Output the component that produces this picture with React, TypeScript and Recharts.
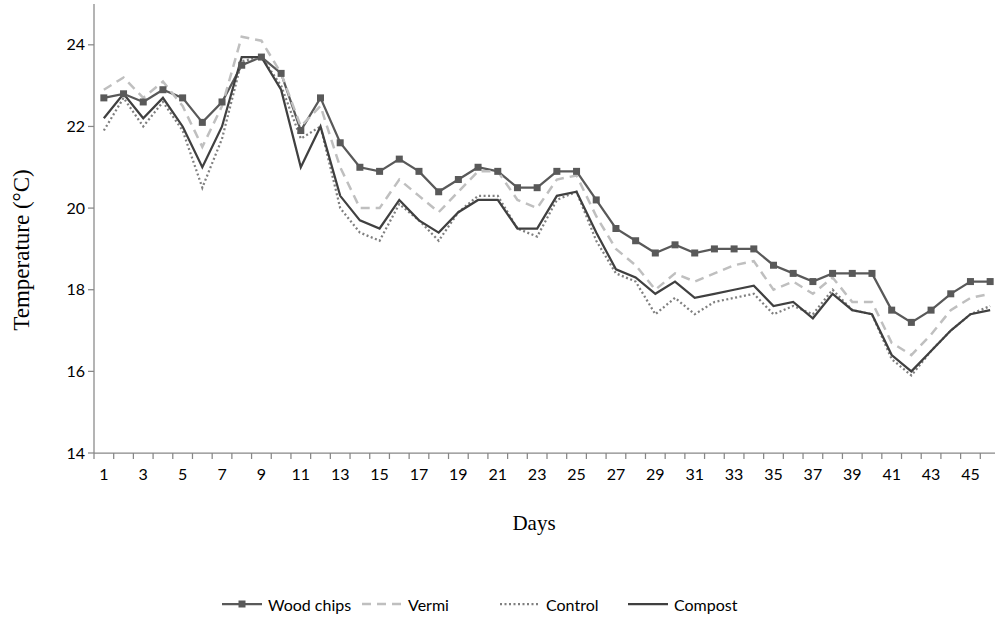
import React from "react";
import { LineChart, Line, XAxis, YAxis, Legend, Label } from "recharts";

const days = Array.from({ length: 46 }, (_, i) => String(i + 1));

const woodChips = [
  22.7, 22.8, 22.6, 22.9, 22.7, 22.1, 22.6, 23.5, 23.7, 23.3, 21.9, 22.7, 21.6, 21.0, 20.9, 21.2,
  20.9, 20.4, 20.7, 21.0, 20.9, 20.5, 20.5, 20.9, 20.9, 20.2, 19.5, 19.2, 18.9, 19.1, 18.9, 19.0,
  19.0, 19.0, 18.6, 18.4, 18.2, 18.4, 18.4, 18.4, 17.5, 17.2, 17.5, 17.9, 18.2, 18.2,
];
const vermi = [
  22.9, 23.2, 22.7, 23.1, 22.5, 21.5, 22.5, 24.2, 24.1, 23.3, 22.0, 22.5, 21.0, 20.0, 20.0, 20.7,
  20.3, 19.9, 20.4, 20.9, 20.9, 20.2, 20.0, 20.7, 20.8, 19.8, 19.0, 18.6, 18.0, 18.4, 18.2, 18.4,
  18.6, 18.7, 18.0, 18.2, 17.9, 18.3, 17.7, 17.7, 16.7, 16.4, 16.9, 17.5, 17.8, 17.9,
];
const control = [
  21.9, 22.7, 22.0, 22.6, 21.9, 20.5, 21.7, 23.6, 23.7, 23.0, 21.7, 22.0, 20.0, 19.4, 19.2, 20.1,
  19.7, 19.2, 19.9, 20.3, 20.3, 19.5, 19.3, 20.2, 20.4, 19.2, 18.4, 18.2, 17.4, 17.8, 17.4, 17.7,
  17.8, 17.9, 17.4, 17.6, 17.4, 18.0, 17.5, 17.4, 16.3, 15.9, 16.5, 17.0, 17.4, 17.6,
];
const compost = [
  22.2, 22.8, 22.2, 22.7, 22.0, 21.0, 22.0, 23.7, 23.7, 22.9, 21.0, 22.0, 20.3, 19.7, 19.5, 20.2,
  19.7, 19.4, 19.9, 20.2, 20.2, 19.5, 19.5, 20.3, 20.4, 19.4, 18.5, 18.3, 17.9, 18.2, 17.8, 17.9,
  18.0, 18.1, 17.6, 17.7, 17.3, 17.9, 17.5, 17.4, 16.4, 16.0, 16.5, 17.0, 17.4, 17.5,
];
const yTicks = [14, 16, 18, 20, 22, 24];

const data = days.map((d, i) => ({
  day: d,
  woodChips: woodChips[i],
  vermi: vermi[i],
  control: control[i],
  compost: compost[i],
}));

const CHART_W = 1010;
const CHART_H = 642;
const Y_AXIS_W = 94;
const MARGIN = { top: 4, right: 10, left: 0, bottom: 129 };
const AXIS_COLOR = "#878787";
const TICK_FONT = "Lato, 'Open Sans', sans-serif";
const SERIF = "'Liberation Serif', 'Times New Roman', serif";
const BAND = (CHART_W - MARGIN.right - MARGIN.left - Y_AXIS_W) / days.length;

const XTick = (props: any) => {
  const { x, y, payload, index } = props;
  const half = BAND / 2;
  return (
    <g>
      <line x1={x - half} x2={x - half} y1={y} y2={y + 6} stroke={AXIS_COLOR} strokeWidth={1.25} />
      {index === days.length - 1 && (
        <line x1={x + half} x2={x + half} y1={y} y2={y + 6} stroke={AXIS_COLOR} strokeWidth={1.25} />
      )}
      {index % 2 === 0 && (
        <text x={x} y={y + 27} textAnchor="middle" fontSize={16} fontFamily={TICK_FONT} fill="#000">
          {payload.value}
        </text>
      )}
    </g>
  );
};

const YTick = (props: any) => {
  const { x, y, payload } = props;
  return (
    <text x={x} y={y} dy={5.5} textAnchor="end" fontSize={16} fontFamily={TICK_FONT} fill="#000">
      {payload.value}
    </text>
  );
};

const SquareDot = (props: any) => {
  const { cx, cy, index } = props;
  if (cx == null || cy == null) return <g key={`sq-${index}`} />;
  return <rect key={`sq-${index}`} x={cx - 3.5} y={cy - 3.5} width={7} height={7} fill="#595959" />;
};

const legendItems = [
  { name: "Wood chips", color: "#595959", dash: undefined as string | undefined, marker: true, left: 222 },
  { name: "Vermi", color: "#BFBFBF", dash: "9 6", marker: false, left: 362 },
  { name: "Control", color: "#7F7F7F", dash: "2 2.5", marker: false, left: 500 },
  { name: "Compost", color: "#404040", dash: undefined, marker: false, left: 628 },
];

const LegendContent = () => (
  <div style={{ position: "relative", width: 995, height: 20 }}>
    {legendItems.map((it) => (
      <div
        key={it.name}
        style={{ position: "absolute", left: it.left, top: 0, display: "flex", alignItems: "center", height: 20 }}
      >
        <svg width={40} height={12} style={{ display: "block" }}>
          <line x1={0} x2={40} y1={6} y2={6} stroke={it.color} strokeWidth={it.dash === "9 6" ? 2.5 : 2.25} strokeDasharray={it.dash} />
          {it.marker && <rect x={16.5} y={2.5} width={7} height={7} fill={it.color} />}
        </svg>
        <span style={{ marginLeft: 6, fontFamily: TICK_FONT, fontSize: 16, color: "#000", whiteSpace: "nowrap" }}>
          {it.name}
        </span>
      </div>
    ))}
  </div>
);

export default function App() {
  return (
    <div style={{ position: "absolute", left: 0, top: 0, width: 995, height: 642, overflow: "hidden", background: "#fff" }}>
      <LineChart width={CHART_W} height={CHART_H} data={data} margin={MARGIN}>
        <XAxis
          dataKey="day"
          interval={0}
          tickLine={false}
          tickSize={0}
          tickMargin={0}
          height={40}
          padding={{ left: BAND / 2, right: BAND / 2 }}
          stroke={AXIS_COLOR}
          strokeWidth={1.25}
          tick={<XTick />}
        >
          <Label
            content={() => (
              <text x={534} y={530} textAnchor="middle" fontFamily={SERIF} fontSize={21} fill="#000">
                Days
              </text>
            )}
          />
        </XAxis>
        <YAxis
          type="number"
          domain={[14, 25]}
          ticks={yTicks}
          width={Y_AXIS_W}
          tickSize={6}
          tickMargin={3}
          stroke={AXIS_COLOR}
          strokeWidth={1.25}
          tick={<YTick />}
          allowDataOverflow
        >
          <Label
            content={() => (
              <text
                x={29}
                y={250}
                transform="rotate(-90 29 250)"
                textAnchor="middle"
                fontFamily={SERIF}
                fontSize={23}
                fill="#000"
              >
                Temperature (°C)
              </text>
            )}
          />
        </YAxis>
        <Legend
          content={<LegendContent />}
          wrapperStyle={{ position: "absolute", left: 0, top: 594, width: 995, height: 20 }}
        />
        <Line
          dataKey="woodChips"
          name="Wood chips"
          stroke="#595959"
          strokeWidth={2.25}
          dot={SquareDot}
          activeDot={false}
          isAnimationActive={false}
        />
        <Line
          dataKey="vermi"
          name="Vermi"
          stroke="#BFBFBF"
          strokeWidth={2.5}
          strokeDasharray="9 6"
          dot={false}
          activeDot={false}
          isAnimationActive={false}
        />
        <Line
          dataKey="control"
          name="Control"
          stroke="#7F7F7F"
          strokeWidth={2.25}
          strokeDasharray="2 2.5"
          dot={false}
          activeDot={false}
          isAnimationActive={false}
        />
        <Line
          dataKey="compost"
          name="Compost"
          stroke="#404040"
          strokeWidth={2.25}
          dot={false}
          activeDot={false}
          isAnimationActive={false}
        />
      </LineChart>
    </div>
  );
}
